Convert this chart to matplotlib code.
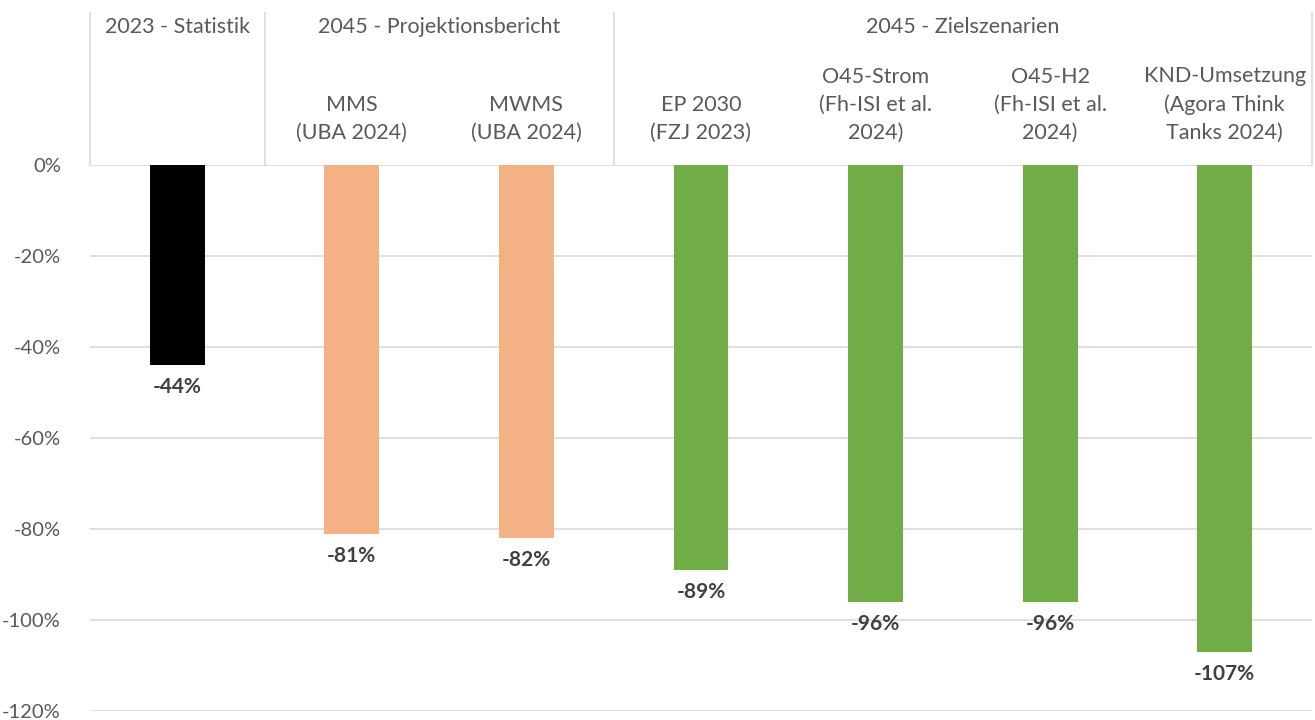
import matplotlib
matplotlib.use("Agg")
import matplotlib.pyplot as plt
from matplotlib.ticker import FuncFormatter

categories = ["", "MMS\n(UBA 2024)", "MWMS\n(UBA 2024)", "EP 2030\n(FZJ 2023)",
              "O45-Strom\n(Fh-ISI et al.\n2024)", "O45-H2\n(Fh-ISI et al.\n2024)",
              "KND-Umsetzung\n(Agora Think\nTanks 2024)"]
values = [-44, -81, -82, -89, -96, -96, -107]
labels = ["-44%", "-81%", "-82%", "-89%", "-96%", "-96%", "-107%"]
colors = ["#000000", "#F4B183", "#F4B183", "#70AD47", "#70AD47", "#70AD47", "#70AD47"]
groups = ["2023 - Statistik", "2045 - Projektionsbericht", "2045 - Zielszenarien"]
group_spans = [(0, 1), (1, 3), (3, 7)]
yticks = [0, -20, -40, -60, -80, -100, -120]

plt.rcParams['font.family'] = ['Lato', 'DejaVu Sans']
txt = "#595959"

fig = plt.figure(figsize=(13.15, 7.2), dpi=100)
ax = fig.add_axes([90/1315, 9/720, (1312-90)/1315, 546/720])
n = len(values)
x = list(range(n))
ax.bar(x, values, width=0.315, color=colors, zorder=3)
ax.set_xlim(-0.5, n - 0.5)
ax.set_ylim(-120, 0)
ax.set_yticks(yticks)
ax.yaxis.set_major_formatter(FuncFormatter(lambda v, p: f"{int(round(v))}%"))
ax.tick_params(axis='y', length=0, pad=21, labelsize=14.5, labelcolor=txt)
ax.tick_params(axis='x', length=0, labelbottom=False)
ax.grid(axis='y', color="#D9D9D9", linewidth=1.2, zorder=0)
for s in ax.spines.values():
    s.set_visible(False)

for xi, v, lab in zip(x, values, labels):
    ax.annotate(lab, (xi, v), xytext=(0, -22), textcoords='offset pixels',
                ha='center', va='center', fontsize=15, fontweight='bold', color="#404040")

# header
top = 1 + 152/546
tr = ax.get_xaxis_transform()
bounds = sorted(set([a for a, b in group_spans] + [b for a, b in group_spans]))
for b in bounds:
    ax.plot([b - 0.5, b - 0.5], [1, top], transform=tr, color="#D9D9D9", lw=1.2, clip_on=False)
for g, (a, b) in zip(groups, group_spans):
    ax.text((a + b - 1) / 2, 1 + 138/546, g, transform=tr, ha='center', va='center',
            fontsize=15.5, color=txt)
for xi, c in zip(x, categories):
    if c:
        ax.text(xi, 1 + 22/546, c, transform=tr, ha='center', va='bottom',
                fontsize=15.5, color=txt, linespacing=1.5)

fig.savefig("out.png", dpi=100)
